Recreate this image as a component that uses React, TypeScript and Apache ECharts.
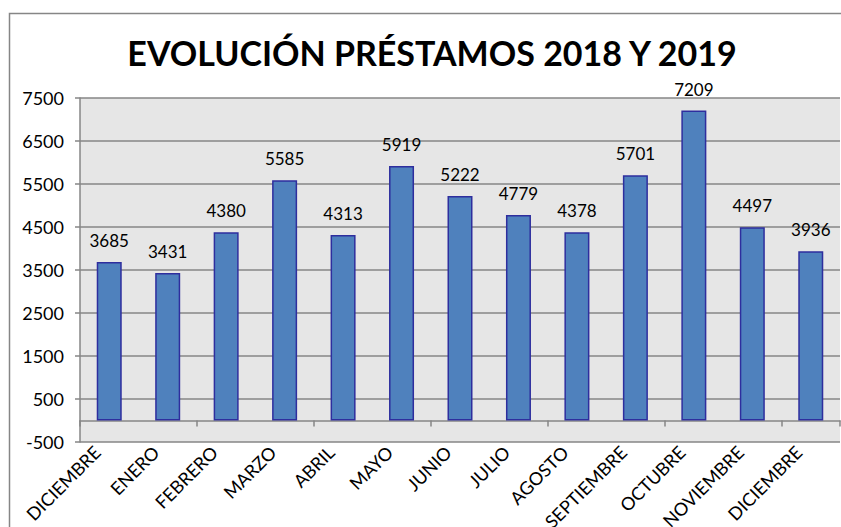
import React, { useEffect, useRef } from "react";
import * as echarts from "echarts";

const categories = [
  "DICIEMBRE", "ENERO", "FEBRERO", "MARZO", "ABRIL", "MAYO", "JUNIO",
  "JULIO", "AGOSTO", "SEPTIEMBRE", "OCTUBRE", "NOVIEMBRE", "DICIEMBRE",
];
const values = [3685, 3431, 4380, 5585, 4313, 5919, 5222, 4779, 4378, 5701, 7209, 4497, 3936];
const yMin = -500;
const yMax = 7500;
const yInterval = 1000;
const titleText = "EVOLUCIÓN PRÉSTAMOS 2018 Y 2019";

const FONT = "Lato, 'Open Sans', sans-serif";

export default function App() {
  const ref = useRef<HTMLDivElement>(null);
  useEffect(() => {
    if (!ref.current) return;
    const chart = echarts.init(ref.current, undefined, { renderer: "svg" });
    chart.setOption({
      animation: false,
      backgroundColor: "#ffffff",
      textStyle: { fontFamily: FONT },
      title: {
        text: titleText,
        left: 427,
        textAlign: "center",
        top: 30,
        textStyle: { fontFamily: FONT, fontSize: 34, fontWeight: "bold", color: "#000" },
      },
      graphic: [
        {
          type: "rect",
          shape: { x: 9.5, y: 13.5, width: 900, height: 600 },
          style: { fill: "none", stroke: "#868686", lineWidth: 1.5 },
          silent: true,
          z: -1,
        },
      ],
      grid: {
        left: 80,
        right: 1,
        top: 98,
        bottom: 85,
        show: true,
        backgroundColor: "#e6e6e6",
        borderWidth: 0,
        containLabel: false,
        outerBoundsMode: "none",
      },
      xAxis: {
        type: "category",
        data: categories,
        boundaryGap: true,
        axisLine: { show: true, onZero: true, lineStyle: { color: "#868686", width: 1.5 } },
        axisTick: { show: true, length: 6, lineStyle: { color: "#868686", width: 1.5 } },
        axisLabel: { show: false },
      },
      yAxis: {
        type: "value",
        min: yMin,
        max: yMax,
        interval: yInterval,
        axisLine: { show: true, lineStyle: { color: "#868686", width: 1.5 } },
        axisTick: { show: true, length: 5, lineStyle: { color: "#868686", width: 1.5 } },
        splitLine: { show: true, lineStyle: { color: "#868686", width: 1.5 } },
        axisLabel: {
          fontSize: 18,
          color: "#000",
          margin: 16,
          fontFamily: FONT,
          formatter: (v: number) => String(v),
        },
      },
      series: [
        {
          type: "bar",
          data: values,
          barWidth: 25,
          itemStyle: { color: "#4f81bd", borderColor: "#2e2e9e", borderWidth: 1.5 },
          label: {
            show: true,
            position: "top",
            distance: 13,
            fontSize: 17,
            color: "#000",
            fontFamily: FONT,
          },
        },
        {
          type: "custom",
          silent: true,
          clip: false,
          z: 10,
          data: categories.map((c, i) => [i, yMin]),
          renderItem: (params: any, api: any) => {
            const idx = api.value(0);
            const p = api.coord([idx, api.value(1)]);
            return {
              type: "text",
              x: p[0] - 12,
              y: p[1] + 7,
              rotation: Math.PI / 4,
              style: {
                text: categories[idx],
                align: "right",
                verticalAlign: "middle",
                fill: "#000",
                font: `18px ${FONT}`,
              },
            };
          },
        },
      ],
    });
    return () => chart.dispose();
  }, []);
  return (
    <div
      ref={ref}
      style={{ position: "absolute", left: 0, top: 0, width: 841, height: 527 }}
    />
  );
}
